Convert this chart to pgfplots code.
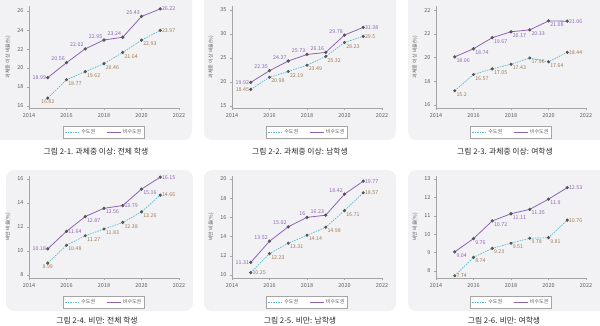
\documentclass[border=0pt]{standalone}
\usepackage{fontspec}
\setmainfont{Noto Sans CJK KR}
\usepackage{pgfplots}
\pgfplotsset{compat=1.18}
\definecolor{bg}{RGB}{242,242,245}
\definecolor{pur}{RGB}{142,99,181}
\definecolor{teal2}{RGB}{90,188,208}
\definecolor{brn}{RGB}{160,122,82}
\definecolor{mk}{RGB}{85,85,85}
\definecolor{axc}{RGB}{165,165,165}
\definecolor{tkc}{RGB}{95,95,95}
\definecolor{capc}{RGB}{40,40,40}
\def\ancn{north}
\def\ancnw{north west}
\def\ance{east}
\def\ancw{west}
\def\ancse{south east}

\pgfplotsset{
 panel/.style={
  scale only axis, width=150pt, height=102pt, anchor=south west,
  xmin=2014, xmax=2022, xtick={2014,2016,...,2022},
  axis x line*=bottom, axis y line*=left,
  axis line style={axc, line width=0.5pt, -},
  tick style={axc, line width=0.5pt},
  tick align=outside, major tick length=2pt,
  ticklabel style={font=\fontsize{5.5}{6}\selectfont, text=tkc},
  /pgf/number format/assume math mode=true,
  /pgf/number format/1000 sep={},
  ylabel style={font=\fontsize{5}{6}\selectfont, text=tkc},
  legend columns=2,
  legend style={at={(0.5,-0.176)}, anchor=north, draw=axc, fill=white,
    font=\fontsize{5}{6}\selectfont, text=tkc, inner sep=1.2pt,
    /tikz/every even column/.append style={column sep=9pt}},
  legend image code/.code={\draw[##1] (0pt,0pt) -- (14pt,0pt);},
 },
 lab/.style={forget plot, nodes near coords={\pgfplotspointmeta}, point meta=explicit symbolic,
   visualization depends on={value \thisrow{a}\as\anc},
   every node near coord/.append style={anchor=\csname anc\anc\endcsname, font=\fontsize{5.3}{6}\selectfont, inner sep=1.4pt}},
 s1/.style={lab, teal2, line width=0.7pt, dash pattern=on 1.6pt off 1pt, mark=*, mark size=1.2pt,
   mark options={solid, fill=mk, draw=mk}, every node near coord/.append style={text=brn}},
 s2/.style={lab, pur, line width=0.8pt, mark=*, mark size=1.2pt,
   mark options={solid, fill=mk, draw=mk}, every node near coord/.append style={text=pur}},
}
\newcommand\legs{\addlegendimage{teal2, line width=0.7pt, dash pattern=on 1.6pt off 1pt}\addlegendentry{수도권}\addlegendimage{pur, line width=0.8pt}\addlegendentry{비수도권}}

\begin{document}
\begin{tikzpicture}
\useasboundingbox (0,0) rectangle (600pt,-326pt);
% backgrounds
\fill[bg, rounded corners=8pt] (-10pt,10pt) rectangle (192pt,-140pt);
\fill[bg, rounded corners=8pt] (204pt,10pt) rectangle (396pt,-140pt);
\fill[bg, rounded corners=8pt] (408pt,10pt) rectangle (610pt,-140pt);
\fill[bg, rounded corners=8pt] (6pt,-170pt) rectangle (193pt,-311pt);
\fill[bg, rounded corners=8pt] (204pt,-170pt) rectangle (396pt,-311pt);
\fill[bg, rounded corners=8pt] (408pt,-170pt) rectangle (610pt,-311pt);

\begin{axis}[panel, at={(29pt,-108pt)}, ymin=15.79, ymax=26.53, ytick={16,18,...,26},
  ylabel={과체중 이상 비율(\%)}]
\legs
\addplot[s1] table[x=x,y=y,meta=y] {
x y a
2015 16.83 n
2016 18.77 nw
2017 19.62 nw
2018 20.46 nw
2019 21.64 nw
2020 22.93 nw
2021 23.97 w
};
\addplot[s2] table[x=x,y=y,meta=y] {
x y a
2015 18.99 e
2016 20.56 se
2017 22.02 se
2018 22.95 se
2019 23.24 se
2020 25.43 se
2021 26.22 w
};
\end{axis}

\begin{axis}[panel, at={(232pt,-108pt)}, ymin=14.58, ymax=35.83, ytick={15,20,...,35},
  ylabel={과체중 이상 비율(\%)}]
\legs
\addplot[s1] table[x=x,y=y,meta=y] {
x y a
2015 18.45 e
2016 20.98 nw
2017 22.19 nw
2018 23.49 nw
2019 25.32 nw
2020 28.23 nw
2021 29.5 w
};
\addplot[s2] table[x=x,y=y,meta=y] {
x y a
2015 19.92 e
2016 22.35 se
2017 24.37 se
2018 25.73 se
2019 26.16 se
2020 29.78 se
2021 31.38 w
};
\end{axis}

\begin{axis}[panel, at={(436pt,-108pt)}, ymin=13.75, ymax=22.34, ytick={14,16,18,20,22},
  yticklabels={16,18,20,22,22},
  ylabel={과체중 이상 비율(\%)}]
\legs
\addplot[s1] table[x=x,y=y,meta=y] {
x y a
2015 15.2 nw
2016 16.57 nw
2017 17.05 nw
2018 17.43 nw
2019 17.96 nw
2020 17.64 nw
2021 18.44 w
};
\addplot[s2] table[x=x,y=y,meta=y] {
x y a
2015 18.06 nw
2016 18.74 nw
2017 19.67 nw
2018 20.17 nw
2019 20.33 nw
2020 21.08 nw
2021 21.06 w
};
\end{axis}

\begin{axis}[panel, at={(29pt,-278pt)}, ymin=7.75, ymax=16.25, ytick={8,10,...,16},
  ylabel={비만 비율(\%)}]
\legs
\addplot[s1] table[x=x,y=y,meta=y] {
x y a
2015 8.99 n
2016 10.48 nw
2017 11.27 nw
2018 11.83 nw
2019 12.38 nw
2020 13.26 nw
2021 14.66 w
};
\addplot[s2] table[x=x,y=y,meta=y] {
x y a
2015 10.18 e
2016 11.64 w
2017 12.87 nw
2018 13.56 nw
2019 13.79 w
2020 15.16 nw
2021 16.15 w
};
\end{axis}

\begin{axis}[panel, at={(232pt,-278pt)}, ymin=9.69, ymax=20.31, ytick={10,12,...,20},
  ylabel={비만 비율(\%)}]
\legs
\addplot[s1] table[x=x,y=y,meta=y] {
x y a
2015 10.25 w
2016 12.23 nw
2017 13.31 nw
2018 14.14 nw
2019 14.98 nw
2020 16.71 nw
2021 18.57 w
};
\addplot[s2] table[x=x,y=y,meta=y] {
x y a
2015 11.31 e
2016 13.52 se
2017 15.02 se
2018 16 se
2019 16.23 se
2020 18.42 se
2021 19.77 w
};
\end{axis}

\begin{axis}[panel, at={(436pt,-278pt)}, ymin=7.62, ymax=13.16, ytick={8,9,...,13},
  ylabel={비만 비율(\%)}]
\legs
\addplot[s1] table[x=x,y=y,meta=y] {
x y a
2015 7.74 w
2016 8.74 nw
2017 9.23 nw
2018 9.51 nw
2019 9.78 nw
2020 9.81 nw
2021 10.76 w
};
\addplot[s2] table[x=x,y=y,meta=y] {
x y a
2015 9.04 nw
2016 9.76 nw
2017 10.72 nw
2018 11.11 nw
2019 11.35 nw
2020 11.9 nw
2021 12.53 w
};
\end{axis}

% captions
\begin{scope}[every node/.style={font=\fontsize{7.8}{9}\selectfont, text=capc, inner sep=0pt}]
\node at (96pt,-152pt) {그림 2-1. 과체중 이상: 전체 학생};
\node at (300pt,-152pt) {그림 2-2. 과체중 이상: 남학생};
\node at (505pt,-152pt) {그림 2-3. 과체중 이상: 여학생};
\node at (97pt,-321pt) {그림 2-4. 비만: 전체 학생};
\node at (300pt,-321pt) {그림 2-5. 비만: 남학생};
\node at (504pt,-321pt) {그림 2-6. 비만: 여학생};
\end{scope}
\end{tikzpicture}
\end{document}
